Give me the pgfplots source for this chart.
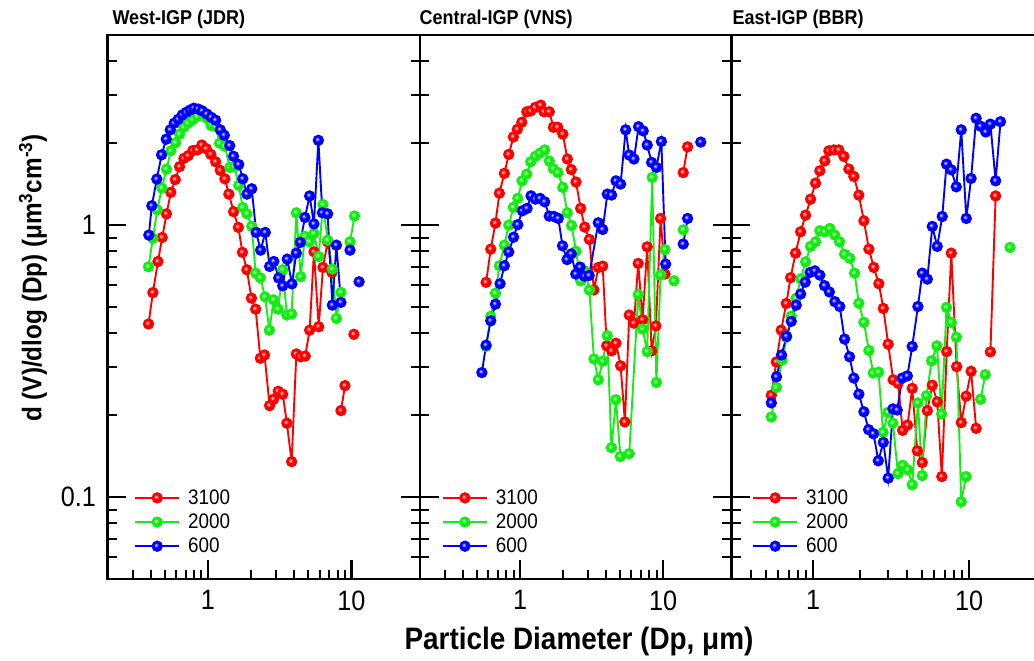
\documentclass[border=0pt]{standalone}
\usepackage{fontspec}
\setmainfont{Liberation Sans}[FakeStretch=0.9]
\usepackage{pgfplots}
\usepackage{pgfplotstable}
\pgfplotsset{compat=1.18}
\definecolor{cR}{RGB}{255,0,0}
\definecolor{cG}{RGB}{20,238,20}
\definecolor{cB}{RGB}{0,0,255}

\makeatletter
\pgfdeclareradialshading[tikz@ball]{softball}{\pgfqpoint{-8bp}{8bp}}{%
  color(0bp)=(tikz@ball!5!white);
  color(5bp)=(tikz@ball!45!white);
  color(12bp)=(tikz@ball);
  color(30bp)=(tikz@ball!88!black);
  color(50bp)=(tikz@ball!70!black)}
\makeatother
\pgfdeclareplotmark{softball}{\shade[shading=softball] (0pt,0pt) circle (\pgfplotmarksize);}

% ---------------- West-IGP (JDR) ----------------
\pgfplotstableread{
x y
0.386 0.433
0.414 0.565
0.449 0.735
0.481 0.901
0.515 1.10
0.552 1.32
0.593 1.47
0.635 1.64
0.681 1.76
0.730 1.80
0.786 1.88
0.844 1.89
0.908 1.97
0.975 1.91
1.049 1.82
1.132 1.71
1.22 1.59
1.314 1.48
1.40 1.30
1.51 1.12
1.63 0.981
1.74 0.794
1.87 0.685
2.01 0.539
2.15 0.491
2.32 0.324
2.48 0.333
2.69 0.217
2.87 0.229
3.09 0.245
3.32 0.239
3.55 0.187
3.83 0.135
4.13 0.336
4.43 0.328
4.76 0.330
5.11 0.411
5.48 0.798
5.91 0.423
6.33 0.699
6.82 0.868
7.31 0.670
nan nan
8.45 0.208
9.01 0.257
nan nan
10.4 0.397
}\tWR
\pgfplotstableread{
x y
0.386 0.703
0.414 0.894
0.444 1.138
0.478 1.368
0.515 1.607
0.552 1.876
0.596 2.01
0.635 2.16
0.681 2.29
0.730 2.37
0.786 2.44
0.844 2.51
0.904 2.60
0.984 2.47
1.056 2.32
1.132 2.31
1.206 2.00
1.314 1.95
1.42 1.63
1.53 1.64
1.64 1.40
1.75 1.16
1.87 1.10
2.02 0.99
2.15 0.666
2.32 0.640
2.50 0.545
2.68 0.411
2.87 0.531
3.09 0.491
3.32 0.685
3.55 0.467
3.83 0.471
4.13 1.11
4.43 0.646
4.74 0.909
5.09 0.868
5.48 0.932
5.91 0.767
6.33 1.19
6.82 0.881
7.36 0.690
7.85 0.454
8.45 0.566
nan nan
9.77 0.868
10.5 1.08
}\tWG
\pgfplotstableread{
x y
0.388 0.919
0.407 1.178
0.441 1.476
0.476 1.813
0.513 2.07
0.547 2.24
0.583 2.37
0.622 2.45
0.663 2.54
0.707 2.60
0.754 2.65
0.799 2.69
0.857 2.67
0.914 2.63
0.984 2.56
1.056 2.49
1.132 2.43
1.22 2.24
1.30 2.14
1.42 1.96
1.51 1.79
1.64 1.67
1.75 1.48
1.87 1.30
2.02 1.36
2.17 0.940
2.33 0.809
2.51 0.940
2.69 0.705
2.88 0.735
3.11 0.639
3.32 0.598
3.57 0.750
3.85 0.608
4.13 0.789
4.40 0.864
4.74 1.067
5.11 1.28
5.48 1.01
5.88 2.05
6.27 1.11
6.82 1.10
7.36 0.508
7.85 0.844
8.45 0.520
nan nan
9.77 0.809
nan nan
11.3 0.619
}\tWB

% ---------------- Central-IGP (VNS) ----------------
\pgfplotstableread{
x y
0.579 0.616
0.624 0.816
0.673 1.017
0.717 1.31
0.777 1.55
0.834 1.82
0.898 2.11
0.957 2.25
1.028 2.39
1.114 2.61
1.188 2.63
1.279 2.71
1.394 2.76
1.47 2.61
1.60 2.61
1.71 2.29
1.83 2.29
1.99 2.16
2.14 1.75
2.28 1.60
2.46 1.44
2.65 1.152
2.83 0.983
3.05 0.886
3.28 0.578
3.53 0.699
3.78 0.707
4.03 0.360
4.36 0.345
4.68 0.368
5.04 0.304
5.40 0.189
5.79 0.467
6.25 0.436
6.69 0.723
7.18 0.449
7.73 0.832
8.30 0.345
8.89 0.426
9.59 1.058
10.3 0.661
nan nan
13.8 1.56
14.8 1.94
}\tCR
\pgfplotstableread{
x y
0.579 0.358
0.624 0.462
0.673 0.562
0.717 0.709
0.777 0.844
0.834 1.00
0.898 1.162
0.964 1.254
1.033 1.455
1.114 1.54
1.188 1.71
1.279 1.79
1.379 1.84
1.487 1.89
1.60 1.72
1.71 1.61
1.84 1.56
1.99 1.376
2.14 1.11
2.29 0.997
2.46 0.802
2.65 0.624
2.86 0.677
3.05 0.577
3.28 0.322
3.52 0.270
3.78 0.316
4.07 0.392
4.35 0.152
4.68 0.228
5.02 0.141
5.79 0.1445
6.69 0.555
7.18 0.415
7.73 0.343
8.38 1.497
8.96 0.264
9.59 0.655
10.3 0.813
nan nan
11.9 0.624
nan nan
13.8 0.961
}\tCG
\pgfplotstableread{
x y
0.541 0.287
0.579 0.362
0.624 0.445
0.673 0.512
0.725 0.609
0.777 0.709
0.834 0.797
0.901 0.903
0.964 1.004
1.038 1.129
1.119 1.152
1.193 1.281
1.279 1.246
1.379 1.254
1.487 1.218
1.60 1.079
1.72 1.076
1.85 1.058
1.98 0.839
2.13 0.747
2.28 0.784
2.45 0.661
2.63 0.701
2.82 0.649
3.04 0.653
3.52 1.02
3.78 0.964
4.07 1.30
4.36 1.29
4.68 1.455
5.04 1.415
5.47 2.24
5.78 1.81
6.25 1.75
6.73 2.30
7.25 2.22
7.73 1.97
8.30 1.70
8.96 1.63
9.71 2.03
10.4 0.719
nan nan
13.8 0.852
14.8 1.058
nan nan
18.3 2.02
}\tCB

% ---------------- East-IGP (BBR) ----------------
\pgfplotstableread{
x y
0.540 0.237
0.581 0.314
0.625 0.411
0.673 0.515
0.718 0.641
0.772 0.789
0.832 0.945
0.895 1.088
0.964 1.246
1.037 1.427
1.105 1.584
1.19 1.723
1.263 1.876
1.359 1.89
1.463 1.89
1.575 1.789
1.696 1.607
1.826 1.51
1.966 1.289
2.117 1.037
2.28 0.816
2.45 0.699
2.64 0.609
2.82 0.494
3.03 0.365
3.26 0.270
3.51 0.262
3.75 0.176
4.03 0.184
4.32 0.251
4.66 0.148
5.01 0.134
5.40 0.208
5.81 0.258
6.25 0.224
6.69 0.119
7.19 0.343
7.69 0.789
8.32 0.302
8.91 0.188
9.57 0.235
10.3 0.290
11.1 0.179
nan nan
13.7 0.342
14.8 1.28
}\tER
\pgfplotstableread{
x y
0.540 0.197
0.583 0.253
0.633 0.319
0.676 0.387
0.725 0.462
0.778 0.538
0.834 0.635
0.895 0.733
0.964 0.835
1.037 0.868
1.105 0.953
1.19 0.945
1.281 0.972
1.38 0.919
1.479 0.868
1.592 0.782
1.72 0.755
1.845 0.666
1.966 0.516
2.117 0.439
2.28 0.346
2.43 0.286
2.63 0.288
2.81 0.173
3.02 0.205
3.25 0.187
3.50 0.122
3.76 0.131
4.05 0.126
4.32 0.111
4.70 0.222
5.01 0.120
5.34 0.236
5.75 0.317
6.22 0.360
6.67 0.202
7.17 0.498
7.69 0.439
8.29 0.387
8.91 0.0961
9.57 0.119
nan nan
11.85 0.229
12.7 0.282
nan nan
18.3 0.828
}\tEG
\pgfplotstableread{
x y
0.540 0.222
0.583 0.277
0.628 0.333
0.676 0.390
0.725 0.443
0.780 0.508
0.832 0.558
0.891 0.617
0.957 0.670
1.027 0.679
1.105 0.655
1.185 0.599
1.272 0.568
1.38 0.523
1.483 0.502
1.592 0.381
1.714 0.328
1.826 0.274
1.966 0.239
2.117 0.206
2.27 0.177
2.44 0.171
2.62 0.136
2.82 0.159
3.03 0.1174
3.25 0.211
3.46 0.209
3.73 0.274
4.02 0.279
4.32 0.358
4.70 0.502
5.01 0.666
5.40 0.633
5.81 0.989
6.25 0.835
6.73 1.076
7.17 1.675
7.69 1.597
8.28 1.383
8.91 2.24
9.60 1.058
10.3 1.485
11.1 2.47
11.85 2.31
12.8 2.20
13.7 2.35
14.8 1.455
15.9 2.40
}\tEB

\pgfplotsset{
  legend image code/.code={\draw[mark repeat=2,mark phase=2,#1] plot coordinates {(0pt,0pt) (22pt,0pt) (44pt,0pt)};},
}

\begin{document}
\begin{tikzpicture}
\path[use as bounding box] (0,0) rectangle (1034pt,661pt);
\clip (0,0) rectangle (1034pt,661pt);

\pgfplotsset{
  every axis/.append style={
    xmode=log, ymode=log, ymin=0.05, ymax=5,
    scale only axis, height=544pt,
    axis line style={line width=2.6pt},
    tick align=inside, xtick pos=left,
    major tick length=19pt, minor tick length=9.5pt,
    major tick style={line width=2.2pt,black},
    minor tick style={line width=2pt,black},
    log ticks with fixed point,
    /pgf/number format/assume math mode=true,
    tick label style={font=\fontsize{28}{30}\selectfont},
    xticklabel shift=8pt, yticklabel shift=8pt,
    unbounded coords=jump,
    legend cell align=left,
    legend style={draw=none, fill=none, anchor=north west,
      font=\fontsize{21}{24}\selectfont, row sep=4pt, inner sep=0pt,
      /tikz/every odd column/.append style={column sep=6pt}},
  },
  sR/.style={cR, line width=1.9pt, mark=softball, mark size=4.7pt, mark options={ball color=cR}},
  sG/.style={cG, line width=1.9pt, mark=softball, mark size=4.7pt, mark options={ball color=cG}},
  sB/.style={cB, line width=1.9pt, mark=softball, mark size=4.7pt, mark options={ball color=cB}},
}

\begin{axis}[at={(107.5pt,82pt)}, anchor=south west, width=312.5pt,
  xmin=0.2, xmax=30, legend style={at={(0.085,0.168)}}]
\addplot[sR] table[x=x,y=y] {\tWR};
\addplot[sG] table[x=x,y=y] {\tWG};
\addplot[sB] table[x=x,y=y] {\tWB};
\legend{3100,2000,600}
\end{axis}

\begin{axis}[at={(420pt,82pt)}, anchor=south west, width=311.5pt,
  xmin=0.2, xmax=30, yticklabels={}, legend style={at={(0.07,0.168)}}]
\addplot[sR] table[x=x,y=y] {\tCR};
\addplot[sG] table[x=x,y=y] {\tCG};
\addplot[sB] table[x=x,y=y] {\tCB};
\legend{3100,2000,600}
\end{axis}

\begin{axis}[at={(731.5pt,82pt)}, anchor=south west, width=312pt,
  xmin=0.3, xmax=30, yticklabels={}, ytick pos=left, legend style={at={(0.066,0.168)}}]
\addplot[sR] table[x=x,y=y] {\tER};
\addplot[sG] table[x=x,y=y] {\tEG};
\addplot[sB] table[x=x,y=y] {\tEB};
\legend{3100,2000,600}
\end{axis}

\node[font=\bfseries\fontsize{20}{22}\selectfont, anchor=base west] at (109pt,636pt) {West-IGP (JDR)};
\node[font=\bfseries\fontsize{20}{22}\selectfont, anchor=base west] at (416pt,636pt) {Central-IGP (VNS)};
\node[font=\bfseries\fontsize{20}{22}\selectfont, anchor=base west] at (729pt,636pt) {East-IGP (BBR)};

\node[font=\bfseries\fontsize{27}{30}\selectfont, rotate=90] at (33pt,383pt) {d (V)/dlog (Dp) (μm\textsuperscript{3}cm\textsuperscript{-3})};
\node[font=\bfseries\fontsize{31}{34}\selectfont, anchor=base] at (579pt,11pt) {Particle Diameter (Dp, μm)};
\end{tikzpicture}
\end{document}
